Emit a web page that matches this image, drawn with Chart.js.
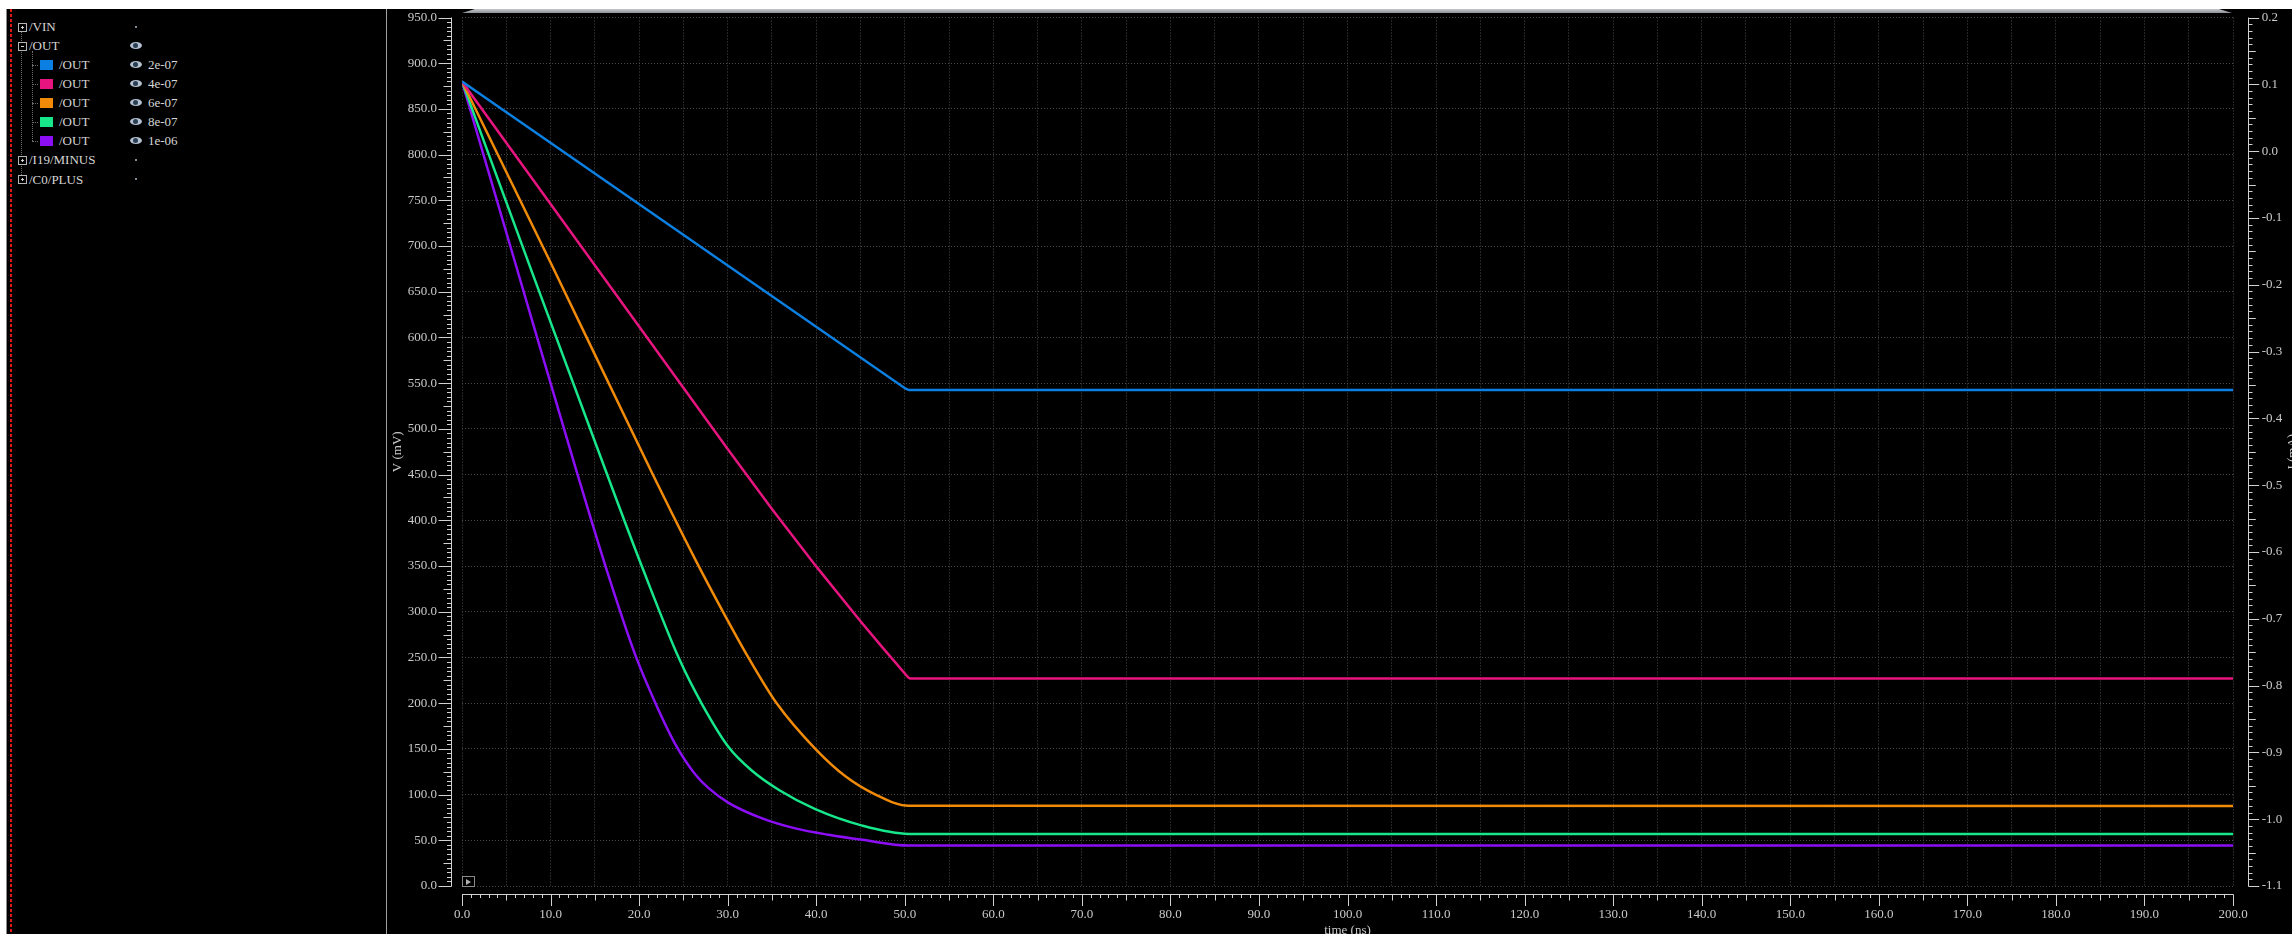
<!DOCTYPE html>
<html>
<head>
<meta charset="utf-8">
<title>/OUT transient sweep</title>
<script src="https://cdn.jsdelivr.net/npm/chart.js@4.4.1/dist/chart.umd.min.js"></script>
<style>
  html, body { margin: 0; padding: 0; background: #000; width: 2292px; height: 934px; overflow: hidden; }
  body { position: relative; font-family: 'Liberation Serif', 'Times New Roman', serif; }
  .abs { position: absolute; }
  #topband  { left: 0; top: 0; width: 2292px; height: 9px; background: #fff; }
  #leftstrip{ left: 0; top: 0; width: 6px; height: 934px; background: #fff; }
  #edge     { left: 6px; top: 9px; width: 1px; height: 925px; background: #8c8c8c; }
  #reddash  { left: 10px; top: 9px; width: 2px; height: 925px;
              background: repeating-linear-gradient(to bottom, #e01818 0 3px, transparent 3px 5px); }
  #divider  { left: 386px; top: 9px; width: 1px; height: 925px; background: #a0a0a0; }
  #tab      { left: 462px; top: 9px; width: 1770px; height: 4px;
              background: linear-gradient(#c6cacf, #8d9197);
              clip-path: polygon(13px 0, 1757px 0, 100% 100%, 0 100%); }
  #wrap     { left: 388px; top: 9px; width: 1904px; height: 925px; }
  .txt { position: absolute; height: 19px; line-height: 19px; font-size: 13px; color: #d6d6d6; white-space: nowrap; }
  .box { position: absolute; width: 7px; height: 7px; border: 1px solid #b5b5b5; background: #000; }
  .hbar { position: absolute; left: 2px; top: 3px; width: 3px; height: 1px; background: #d0d0d0; }
  .vbar { position: absolute; left: 3px; top: 2px; width: 1px; height: 3px; background: #d0d0d0; }
  .eye { position: absolute; width: 12px; height: 7px; border-radius: 50%; background: #b3c1d0; }
  .pupil { position: absolute; left: 3px; top: 1px; width: 5px; height: 5px; border-radius: 50%; background: #2c3e52; }
  .dot { position: absolute; width: 2px; height: 2px; background: #7f8fa0; }
  .vdots { position: absolute; width: 0; border-left: 1px dotted #6c6c6c; }
  .hdots { position: absolute; height: 0; border-top: 1px dotted #6c6c6c; }
  .swatch { position: absolute; width: 13px; height: 10px; }
</style>
</head>
<body>
<div class="abs" id="topband"></div>
<div class="abs" id="leftstrip"></div>
<div class="abs" id="edge"></div>
<div class="abs" id="reddash"></div>
<div class="abs" id="divider"></div>
<div class="abs" id="tree"></div>
<div class="abs" id="wrap"><canvas id="chartOut"></canvas></div>
<div class="abs" id="tab"></div>
<script>
// ---- values (time in ns, V in mV) ----
const SWEEP_LABELS = ['2e-07', '4e-07', '6e-07', '8e-07', '1e-06'];
const SWEEP_COLORS = ['#0b80e2', '#e6147e', '#f08a08', '#17e68b', '#8b0ef5'];
const SWEEP_SMOOTH = [false, false, true, true, true];   // the two slow ramps are straight

const T_2E7 = [0, 50.1, 50.5, 200];
const V_2E7 = [880, 544, 542.5, 542.5];
const T_4E7 = [0, 10, 20, 30, 35, 40, 45, 47.5, 50.4, 50.6, 200];
const V_4E7 = [880, 746, 612, 478, 412.4, 349.6, 289.6, 260.7, 228, 227, 227];
const T_6E7 = [0, 10, 21.3, 26.35, 29.75, 32.4, 35.6, 39.9, 43.3, 46.7, 50.45, 200];
const V_6E7 = [880, 682, 455, 357, 295, 249, 199, 150, 120, 100, 87.7, 87.5];
const T_8E7 = [0, 8, 16.2, 20.3, 24.5, 27.1, 30.1, 32.75, 35.8, 39.9, 45.2, 50.45, 200];
const V_8E7 = [880, 669, 455, 350, 249, 199, 152, 126, 105, 84, 66, 57, 57];
const T_1E6 = [0, 6, 12.9, 16.2, 19.6, 21.85, 24.1, 26.35, 27.85, 30.1, 33.9, 37.65, 41.4, 45.2, 50.45, 200];
const V_1E6 = [880, 682, 455, 350, 252, 200, 155, 122, 107, 91, 74, 63, 56, 50.5, 44.3, 44.2];

const TIMES  = [T_2E7, T_4E7, T_6E7, T_8E7, T_1E6];
const VOLTS  = [V_2E7, V_4E7, V_6E7, V_8E7, V_1E6];

const X_RANGE = [0, 200];      // time (ns)
const V_RANGE = [0, 950];      // V (mV)
const I_RANGE = [-1.1, 0.2];   // I (mA)

const PARENT_SIGNALS = ['/VIN', '/OUT', '/I19/MINUS', '/C0/PLUS'];

const FONT = "'Liberation Serif', 'Times New Roman', serif";
const AXIS = '#d2d2d2';
const LABEL = '#cacaca';
const GRID = '#4a4a4a';

// ---- signal tree on the left ----
function buildTree() {
  const tree = document.getElementById('tree');
  const ROW0 = 26.7, STEP = 19.04;
  const add = (cls, css, html) => {
    const el = document.createElement('div');
    el.className = cls;
    Object.assign(el.style, css);
    if (html) el.innerHTML = html;
    tree.appendChild(el);
    return el;
  };
  const rowY = (r) => ROW0 + r * STEP;

  // dotted tree lines
  add('vdots', { left: '21px', top: rowY(0) + 'px', height: (rowY(8) - rowY(0)) + 'px' });
  add('vdots', { left: '32px', top: '51px', height: (rowY(6) - 51) + 'px' });
  for (let k = 0; k < SWEEP_LABELS.length; k++) {
    add('hdots', { left: '32px', top: Math.round(rowY(k + 2)) + 'px', width: '6px' });
  }

  const expander = (r, open) => {
    const b = add('box', { left: '18px', top: (rowY(r) - 4) + 'px' });
    const h = document.createElement('div'); h.className = 'hbar'; b.appendChild(h);
    if (!open) { const v = document.createElement('div'); v.className = 'vbar'; b.appendChild(v); }
  };
  const eye = (r) => {
    const e = add('eye', { left: '130px', top: (rowY(r) - 3.5) + 'px' });
    const p = document.createElement('div'); p.className = 'pupil'; e.appendChild(p);
  };
  const text = (r, x, s) => add('txt', { left: x + 'px', top: (rowY(r) - 9.5) + 'px' }, s);

  const parentRows = [0, 1, 7, 8];
  PARENT_SIGNALS.forEach((name, i) => {
    const r = parentRows[i];
    expander(r, name === '/OUT');
    text(r, 29, name);
    if (name === '/OUT') eye(r);
    else add('dot', { left: '135px', top: (rowY(r) - 1) + 'px' });
  });
  SWEEP_LABELS.forEach((lab, k) => {
    const r = k + 2;
    add('swatch', { left: '40px', top: (rowY(r) - 5) + 'px', background: SWEEP_COLORS[k] });
    text(r, 59, '/OUT');
    eye(r);
    text(r, 148, lab);
  });
}

// ---- axes drawn the viewer way: offset spines with minor ticks ----
const scopeAxes = {
  id: 'scopeAxes',
  afterDraw(chart) {
    const { ctx, chartArea: a, scales: { x, y, y1 } } = chart;
    const seg = (x1, y1_, x2, y2) => { ctx.beginPath(); ctx.moveTo(x1, y1_); ctx.lineTo(x2, y2); ctx.stroke(); };
    ctx.save();
    ctx.strokeStyle = AXIS;
    ctx.lineWidth = 1;

    // left V axis
    const lx = Math.round(a.left - 11) + 0.5;
    seg(lx, y.getPixelForValue(V_RANGE[0]) + 0.5, lx, y.getPixelForValue(V_RANGE[1]));
    for (let k = 0; k <= 190; k++) {
      const py = Math.round(y.getPixelForValue(k * 5)) + 0.5;
      const len = k % 10 === 0 ? 13 : (k % 5 === 0 ? 8 : 4.5);
      seg(lx - len, py, lx, py);
    }

    // right I axis
    const rx = Math.round(a.right + 14.7) + 0.5;
    seg(rx, y1.getPixelForValue(I_RANGE[0]) + 0.5, rx, y1.getPixelForValue(I_RANGE[1]));
    for (let k = 0; k <= 130; k++) {
      const py = Math.round(y1.getPixelForValue(I_RANGE[0] + k * 0.01)) + 0.5;
      const len = k % 10 === 0 ? 10.7 : (k % 5 === 0 ? 7.3 : 4);
      seg(rx, py, rx + len, py);
    }

    // bottom time axis
    const by = Math.round(a.bottom + 7.5) + 0.5;
    seg(x.getPixelForValue(X_RANGE[0]), by, x.getPixelForValue(X_RANGE[1]) + 0.5, by);
    for (let k = 0; k <= 200; k++) {
      const px = Math.round(x.getPixelForValue(k)) + 0.5;
      const len = k % 10 === 0 ? 11.5 : (k % 5 === 0 ? 6 : 3.5);
      seg(px, by, px, by + len);
    }

    // right axis title, cut by the window edge
    ctx.fillStyle = LABEL;
    ctx.font = '13px ' + FONT;
    ctx.textAlign = 'center';
    ctx.textBaseline = 'alphabetic';
    ctx.translate(chart.width + 4, (a.top + a.bottom) / 2);
    ctx.rotate(-Math.PI / 2);
    ctx.fillText('I (mA)', 0, 0);
    ctx.restore();

    // little play button in the plot corner
    ctx.save();
    ctx.strokeStyle = '#8a8a8a';
    ctx.strokeRect(Math.round(a.left) + 0.5, Math.round(a.bottom) - 9.5, 12, 10);
    ctx.fillStyle = '#b0b0b0';
    ctx.beginPath();
    ctx.moveTo(a.left + 4, a.bottom - 7);
    ctx.lineTo(a.left + 4, a.bottom - 1);
    ctx.lineTo(a.left + 9, a.bottom - 4);
    ctx.closePath();
    ctx.fill();
    ctx.restore();
  },
};

// fixed box sizes so the plot lands where the viewer puts it
const pin = (w, h) => (s) => {
  if (w !== null) s.width = w;
  if (h !== null) s.height = h;
  s.paddingTop = 0; s.paddingBottom = 0; s.paddingLeft = 0; s.paddingRight = 0;
};

function init() {
  if (typeof Chart === 'undefined') { setTimeout(init, 50); return; }
  buildTree();

  const datasets = SWEEP_LABELS.map((lab, k) => ({
    label: '/OUT ' + lab,
    data: TIMES[k].map((t, i) => ({ x: t, y: VOLTS[k][i] })),
    borderColor: SWEEP_COLORS[k],
    borderWidth: 2.5,
    pointRadius: 0,
    fill: false,
    tension: 0,
    cubicInterpolationMode: SWEEP_SMOOTH[k] ? 'monotone' : 'default',
    yAxisID: 'y',
  }));

  const tickFont = { family: FONT, size: 13 };

  new Chart(document.getElementById('chartOut'), {
    type: 'line',
    data: { datasets },
    options: {
      responsive: true,
      maintainAspectRatio: false,
      animation: false,
      layout: { padding: { top: 8.5, left: 0, right: 0, bottom: 0 } },
      plugins: { legend: { display: false }, tooltip: { enabled: false } },
      scales: {
        x: {
          type: 'linear',
          min: X_RANGE[0], max: X_RANGE[1],
          afterFit: pin(null, 48),
          grid: { color: GRID, lineWidth: 1, drawTicks: false },
          border: { display: false, dash: [1, 2] },
          ticks: {
            stepSize: 5, autoSkip: false, maxRotation: 0, padding: 21,
            color: LABEL, font: tickFont,
            callback: (v) => (v % 10 === 0 ? v.toFixed(1) : ''),
          },
          title: { display: true, text: 'time (ns)', color: LABEL, font: tickFont, padding: { top: 0, bottom: -4 } },
        },
        y: {
          position: 'left',
          min: V_RANGE[0], max: V_RANGE[1],
          afterFit: pin(74, null),
          grid: { color: GRID, lineWidth: 1, drawTicks: false },
          border: { display: false, dash: [1, 2] },
          ticks: { stepSize: 50, padding: 25, color: LABEL, font: tickFont, callback: (v) => v.toFixed(1) },
          title: { display: true, text: 'V (mV)', color: LABEL, font: tickFont, padding: { top: 2, bottom: 0 } },
        },
        y1: {
          position: 'right',
          min: I_RANGE[0], max: I_RANGE[1],
          afterFit: pin(59, null),
          grid: { drawOnChartArea: false, drawTicks: false },
          border: { display: false },
          ticks: {
            stepSize: 0.1, padding: 28.7, color: LABEL, font: tickFont,
            callback: (v) => (Math.abs(v) < 1e-9 ? '0.0' : v.toFixed(1)),
          },
        },
      },
    },
    plugins: [scopeAxes],
  });
}

if (document.readyState === 'loading') {
  document.addEventListener('DOMContentLoaded', init);
} else {
  init();
}
</script>
</body>
</html>
